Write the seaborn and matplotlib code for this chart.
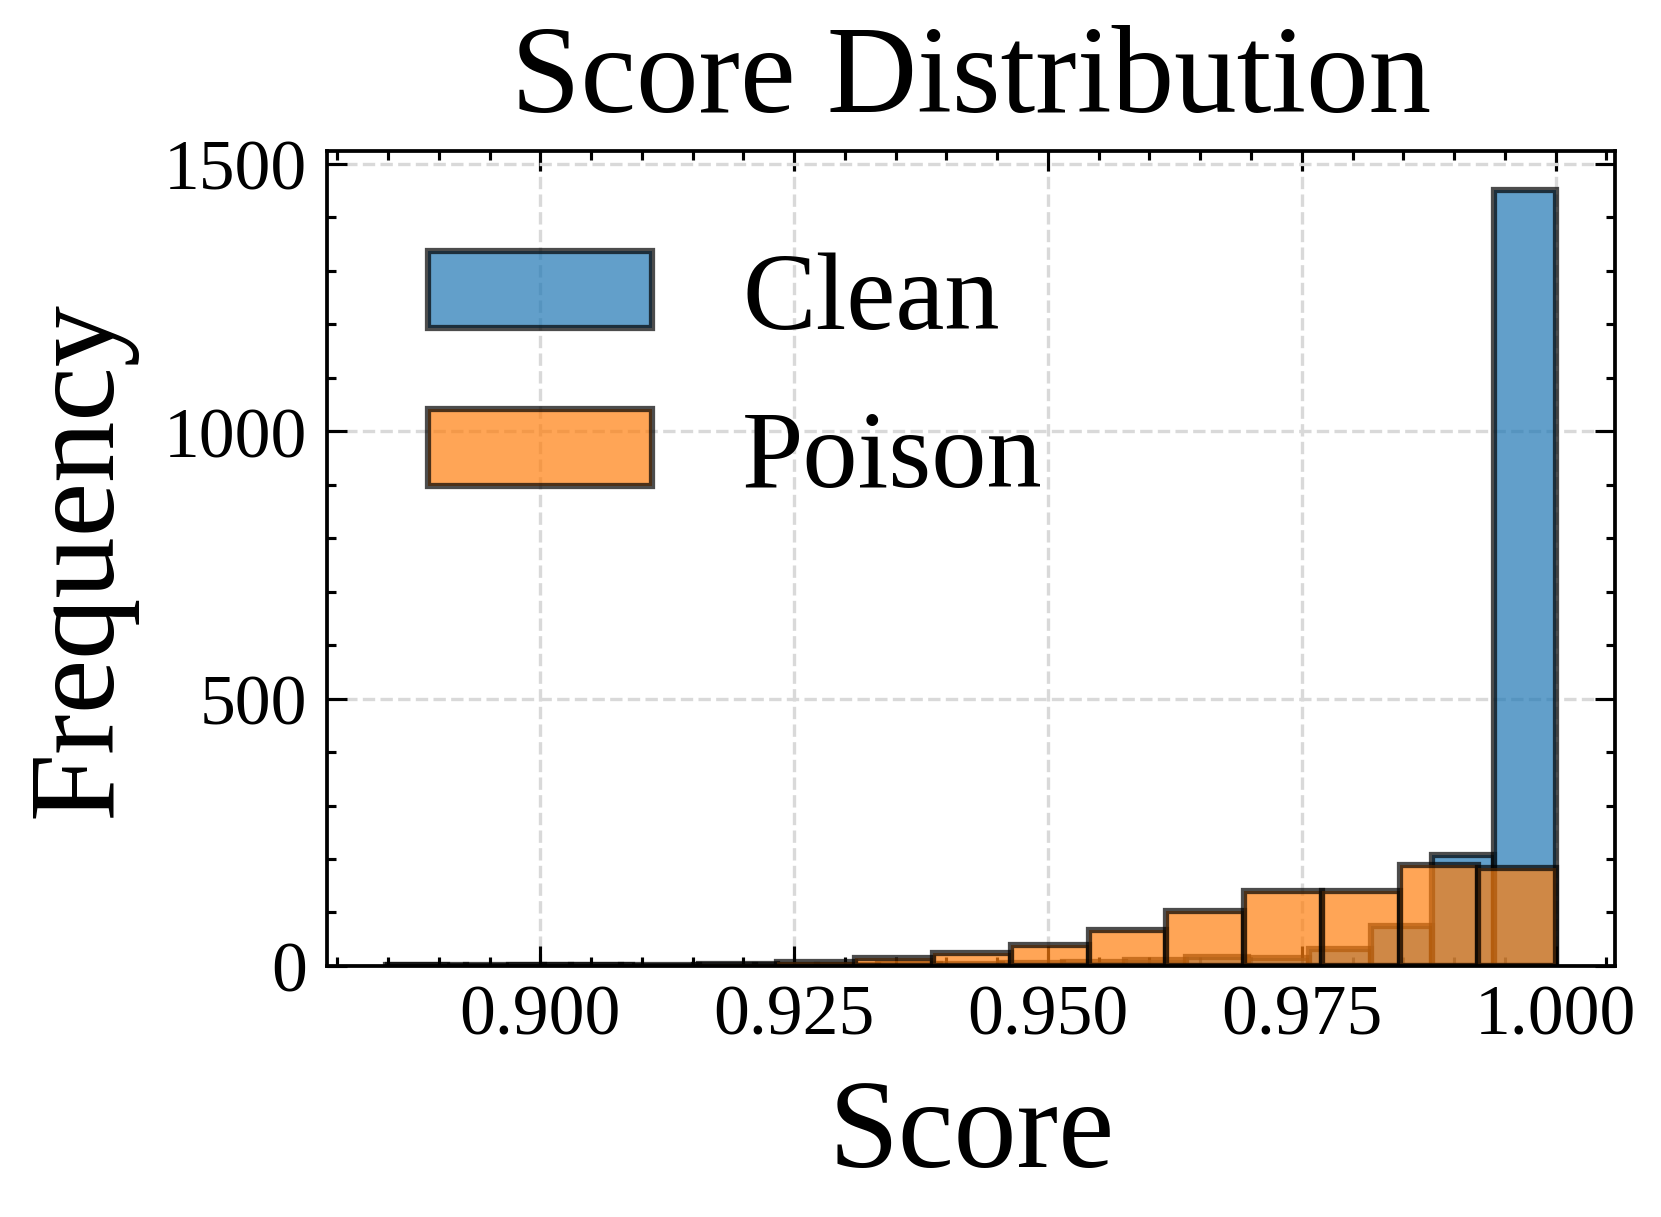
import matplotlib
matplotlib.use("Agg")
import matplotlib.pyplot as plt
import seaborn as sns
import numpy as np
import pandas as pd
from matplotlib.ticker import MultipleLocator

# histogram counts
clean_range = (0.8848, 1.0)
clean_counts = [1, 0, 1, 1, 0, 1, 2, 2, 3, 4, 5, 7, 11, 16, 15, 32, 74, 207, 1452]
poison_range = (0.885, 1.0)
poison_counts = [1, 1, 1, 2, 4, 7, 15, 24, 40, 67, 102, 141, 141, 189, 183]
labels = ["Clean", "Poison"]
x_ticks = [0.900, 0.925, 0.950, 0.975, 1.000]
y_ticks = [0, 500, 1000, 1500]

sns.set_style("ticks")
plt.rcParams['font.family'] = ['Liberation Serif', 'DejaVu Serif']
plt.rcParams['mathtext.fontset'] = 'stix'
for k in ['text.color', 'axes.labelcolor', 'xtick.color', 'ytick.color', 'axes.edgecolor']:
    plt.rcParams[k] = 'black'

fig = plt.figure(figsize=(1661/300, 1218/300), dpi=300)
ax = fig.add_axes([0.1969, 0.2061, 0.9726-0.1969, 0.8756-0.2061])
ax.set_axisbelow(True)
ax.grid(True, linestyle='--', color='#d9d9d9', linewidth=0.8)

clean_edges = np.linspace(clean_range[0], clean_range[1], len(clean_counts) + 1)
poison_edges = np.linspace(poison_range[0], poison_range[1], len(poison_counts) + 1)
clean_df = pd.DataFrame({'score': (clean_edges[:-1] + clean_edges[1:]) / 2, 'n': clean_counts})
poison_df = pd.DataFrame({'score': (poison_edges[:-1] + poison_edges[1:]) / 2, 'n': poison_counts})

edge = (0, 0, 0, 0.7)
sns.histplot(data=clean_df, x='score', weights='n', bins=clean_edges.tolist(),
             color='#1f77b4', alpha=0.7, edgecolor=edge, linewidth=1.5, label=labels[0], ax=ax)
sns.histplot(data=poison_df, x='score', weights='n', bins=poison_edges.tolist(),
             color='#ff7f0e', alpha=0.7, edgecolor=edge, linewidth=1.5, label=labels[1], ax=ax)

ax.set_xlim(0.8790, 1.0059)
ax.set_ylim(0, 1525)
ax.set_xticks(x_ticks)
ax.set_yticks(y_ticks)
ax.set_xticklabels([f"{v:.3f}" for v in x_ticks])
ax.xaxis.set_minor_locator(MultipleLocator(0.005))
ax.yaxis.set_minor_locator(MultipleLocator(100))
ax.tick_params(which='both', direction='in', top=True, right=True, width=0.75, labelsize=17.2)
ax.tick_params(which='major', length=4.8)
ax.tick_params(which='minor', length=2.2)
ax.tick_params(axis='x', pad=4.2)
ax.tick_params(axis='y', pad=4.8)
for s in ax.spines.values():
    s.set_linewidth(0.9)

ax.set_title("Score Distribution", fontsize=30, pad=9.6)
ax.set_xlabel("Score", fontsize=30.2, labelpad=7)
ax.set_ylabel("Frequency", fontsize=29.4, labelpad=6.5)
ax.legend(frameon=False, fontsize=26.5, loc='upper left', handlelength=2.03,
          handletextpad=0.82, labelspacing=0.52, borderaxespad=0.51)

fig.savefig("out.png", dpi=300)
